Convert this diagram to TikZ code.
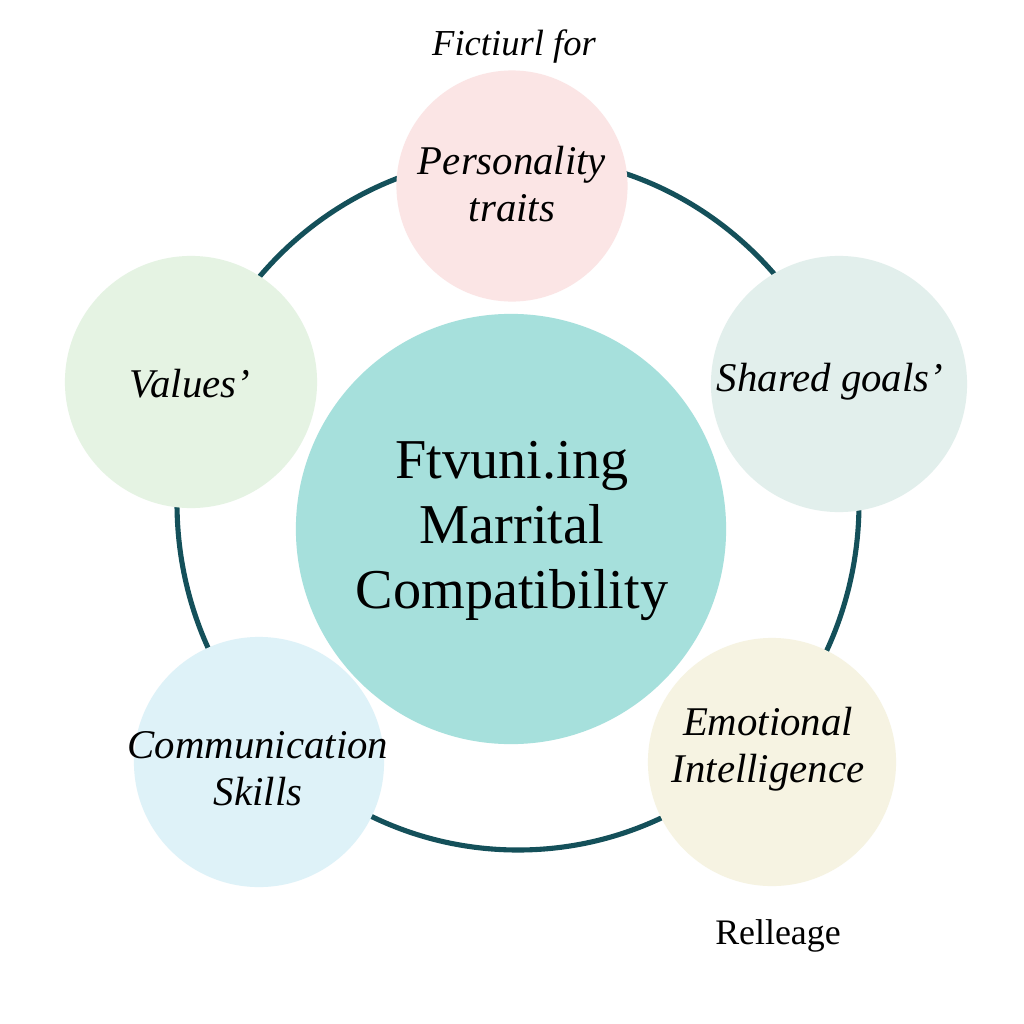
\documentclass[tikz,border=0pt]{standalone}
\usepackage{fontspec}
\setmainfont{Liberation Serif}
\definecolor{ringc}{HTML}{14505A}
\definecolor{cpers}{HTML}{FBE5E5}
\definecolor{cval}{HTML}{E5F3E3}
\definecolor{cshar}{HTML}{E2EFEC}
\definecolor{ccomm}{HTML}{DEF2F8}
\definecolor{cemo}{HTML}{F6F3E2}
\definecolor{ccent}{HTML}{A6E0DC}
\begin{document}
\begin{tikzpicture}[x=0.01cm,y=-0.01cm,
  bubble/.style={circle,inner sep=0pt,draw=none},
  sattext/.style={align=center,inner sep=0pt,font=\fontsize{11.6}{13.4}\selectfont\itshape},
  centtext/.style={align=center,inner sep=0pt,font=\fontsize{16}{18.5}\selectfont},
  note/.style={inner sep=0pt,font=\fontsize{10.2}{12}\selectfont}]
\useasboundingbox (0,0) rectangle (1024,1024);
\fill[white] (0,0) rectangle (1024,1024);
% ring
\draw[ringc,line width=1.45pt] (518,503) ellipse[x radius=341,y radius=347];
% bubbles
\node[bubble,fill=cpers,minimum size=2.31cm] (pers) at (512,186) {};
\node[bubble,fill=cval,minimum size=2.52cm] (val) at (191,382) {};
\node[bubble,fill=cshar,minimum size=2.56cm] (shar) at (839,384) {};
\node[bubble,fill=ccomm,minimum size=2.50cm] (comm) at (259,762) {};
\node[bubble,fill=cemo,minimum size=2.48cm] (emo) at (772,762) {};
\node[bubble,fill=ccent,minimum size=4.30cm] (cent) at (511,529) {};
% texts
\node[sattext] (tpers) at (512,184) {Personality\\traits};
\node[sattext] (tval) at (190,384) {Values'};
\node[sattext] (tshar) at (830,382) {Shared goals'};
\node[sattext] (tcomm) at (258,769) {Communication\\Skills};
\node[sattext] (temo) at (768,749) {Emotional\\Intelligence};
\node[centtext] (tcent) at (512,531) {Ftvuni.ing\\Marrital\\Compatibility};
\node[note,font=\fontsize{10.4}{12}\selectfont\itshape] (top) at (514,47) {Fictiurl for};
\node[note] (bot) at (778,936) {Relleage};
\end{tikzpicture}
\end{document}
